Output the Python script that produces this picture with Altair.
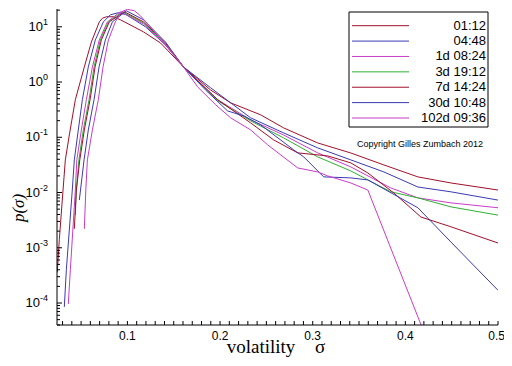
import altair as alt
import pandas as pd

names = ["01:12", "04:48", "1d 08:24", "3d 19:12", "7d 14:24", "30d 10:48", "102d 09:36"]
colors = ["#a0102a", "#3a3ab4", "#c83cc8", "#30b030", "#a0102a", "#3a3ab4", "#c83cc8"]

sig_1 = [0.0243, 0.0265, 0.0297, 0.0330, 0.0373, 0.0438, 0.0535, 0.0611, 0.0697, 0.0730, 0.0773, 0.0849, 0.0924,
         0.1173, 0.1357, 0.1605, 0.1897, 0.2114, 0.2438, 0.2686, 0.3054, 0.3411, 0.3768, 0.4135, 0.4492, 0.5]
p_1 = [3.6e-4, 1.4e-3, 7.3e-3, 0.039, 0.11, 0.48, 1.88, 5.3, 12.3, 14.3, 15.2, 15.2, 13.4,
       8.1, 5.1, 1.88, 0.72, 0.42, 0.255, 0.148, 0.079, 0.052, 0.0316, 0.0192, 0.0149, 0.0111]

sig_2 = [0.0319, 0.0341, 0.0373, 0.0405, 0.0427, 0.0470, 0.0514, 0.0578, 0.0654, 0.0741, 0.0816, 0.0903,
         0.0989, 0.1195, 0.1411, 0.1605, 0.1897, 0.2330, 0.2686, 0.3054, 0.3411, 0.3768, 0.4135, 0.4492, 0.5]
p_2 = [8.5e-5, 4.0e-4, 2.1e-3, 0.0111, 0.039, 0.136, 0.48, 1.88, 5.8, 12.3, 16.5, 18.0,
       16.5, 10.0, 4.7, 1.88, 0.79, 0.225, 0.120, 0.0643, 0.0390, 0.0236, 0.0126, 0.0103, 0.0073]

sig_3 = [0.0362, 0.0384, 0.0411, 0.0438, 0.0454, 0.0503, 0.0557, 0.0622, 0.0697, 0.0784, 0.0924, 0.1173,
         0.1411, 0.1605, 0.1973, 0.2330, 0.2686, 0.3054, 0.3411, 0.3843, 0.4135, 0.4492, 0.5]
p_3 = [9.6e-5, 4.0e-4, 2.1e-3, 0.0111, 0.039, 0.136, 0.48, 1.88, 5.8, 12.3, 18.7, 11.3,
       4.7, 1.88, 0.48, 0.207, 0.110, 0.0522, 0.0291, 0.0121, 0.0080, 0.0065, 0.0053]

sig_4 = [0.0438, 0.0449, 0.0476, 0.0524, 0.0586, 0.0640, 0.0708, 0.0795, 0.0946, 0.1173, 0.1411,
         0.1605, 0.1973, 0.2330, 0.2686, 0.3054, 0.3411, 0.3843, 0.4135, 0.4492, 0.5]
p_4 = [0.0039, 0.0111, 0.039, 0.136, 0.48, 1.88, 5.8, 12.3, 18.7, 11.8, 4.9,
       1.88, 0.46, 0.198, 0.0975, 0.0442, 0.0246, 0.0103, 0.0080, 0.0055, 0.0039]

sig_5 = [0.0427, 0.0449, 0.0486, 0.0535, 0.0597, 0.0651, 0.0719, 0.0805, 0.0968, 0.1173, 0.1411, 0.1605,
         0.1973, 0.2330, 0.2578, 0.2838, 0.3162, 0.3411, 0.3595, 0.3876, 0.4168, 0.4492, 0.5]
p_5 = [0.0022, 0.0111, 0.039, 0.136, 0.48, 1.88, 5.8, 12.3, 18.7, 12.3, 5.1, 1.88,
       0.48, 0.182, 0.0897, 0.0522, 0.0460, 0.0344, 0.0226, 0.0098, 0.0036, 0.0024, 0.00122]

sig_6 = [0.0481, 0.0532, 0.0578, 0.0640, 0.0694, 0.0762, 0.0838, 0.0989, 0.1173, 0.1411, 0.1605, 0.1843,
         0.2081, 0.2254, 0.2438, 0.2795, 0.2903, 0.3119, 0.3411, 0.3595, 0.4135, 0.4492, 0.5]
p_6 = [0.0073, 0.039, 0.136, 0.48, 1.88, 5.8, 12.3, 19.5, 13.4, 5.3, 1.88, 0.72,
       0.30, 0.244, 0.168, 0.0591, 0.0442, 0.0192, 0.0184, 0.0169, 0.0053, 0.00127, 1.7e-4]

sig_7 = [0.0535, 0.0551, 0.0568, 0.0622, 0.0686, 0.0737, 0.0795, 0.0870, 0.0935, 0.1000, 0.1076, 0.1141,
         0.1281, 0.1465, 0.1605, 0.1757, 0.1951, 0.2114, 0.2330, 0.2514, 0.2838, 0.3054, 0.3162, 0.3411,
         0.3595, 0.417]
p_7 = [0.0022, 0.0111, 0.039, 0.136, 0.48, 1.88, 5.8, 12.3, 18.7, 20.7, 19.5, 15.8,
       8.5, 3.8, 1.88, 0.82, 0.39, 0.225, 0.136, 0.0728, 0.0279, 0.0236, 0.0200, 0.0149,
       0.0111, 4.0e-5]

series = [(sig_1, p_1), (sig_2, p_2), (sig_3, p_3), (sig_4, p_4), (sig_5, p_5), (sig_6, p_6), (sig_7, p_7)]

x_label_vals = [0.1, 0.2, 0.3, 0.4, 0.5]
x_label_text = ["0.1", "0.2", "0.3", "0.4", "0.5"]
y_decades = [10.0, 1.0, 0.1, 0.01, 0.001, 0.0001]
y_exps = ["1", "0", "-1", "-2", "-3", "-4"]
copyright_text = "Copyright Gilles Zumbach 2012"
x_title_word = "volatility"
x_title_sym = "\u03c3"
y_title = "p(\u03c3)"

rows = []
for name, (sg, pp) in zip(names, series):
    for i, (a, b) in enumerate(zip(sg, pp)):
        rows.append({"series": name, "i": i, "sigma": a, "p": b})
df = pd.DataFrame(rows)

W, H = 441, 316
XDOM = [0.024, 0.5]
YDOM = [4e-5, 21.0]
xscale = alt.Scale(domain=XDOM, nice=False, zero=False)
yscale = alt.Scale(type="log", domain=YDOM, nice=False)
cscale = alt.Scale(domain=names, range=colors)

SANS = "Liberation Sans"
SERIF = "Liberation Serif"

one = pd.DataFrame({"k": [0]})

lines = alt.Chart(df).mark_line(strokeWidth=1, clip=True).encode(
    x=alt.X("sigma:Q", scale=xscale, axis=None),
    y=alt.Y("p:Q", scale=yscale, axis=None),
    color=alt.Color("series:N", scale=cscale, legend=None),
    order="i:Q",
    detail="series:N",
)

# axis lines
x_axis_line = alt.Chart(one).mark_rule(color="black", strokeWidth=1).encode(
    x=alt.value(0), x2=alt.value(W), y=alt.value(H))
y_axis_line = alt.Chart(one).mark_rule(color="black", strokeWidth=1).encode(
    x=alt.value(0), y=alt.value(0), y2=alt.value(H))

# inward ticks
xt_vals = [round(0.03 + 0.01 * k, 2) for k in range(48)]
xt = alt.Chart(pd.DataFrame({"v": xt_vals})).mark_rule(color="black", strokeWidth=1).encode(
    x=alt.X("v:Q", scale=xscale, axis=None), y=alt.value(H), y2=alt.value(H - 4))

xlabdf = pd.DataFrame({"v": x_label_vals, "t": x_label_text})
xlab = alt.Chart(xlabdf).transform_filter("datum.v < 0.45").mark_text(
    align="center", baseline="middle", font=SANS, fontSize=12, color="black").encode(
    x=alt.X("v:Q", scale=xscale, axis=None), y=alt.value(H + 11), text="t:N")
xlab_last = alt.Chart(xlabdf).transform_filter("datum.v > 0.45").mark_text(
    align="right", baseline="middle", font=SANS, fontSize=12, color="black", dx=7).encode(
    x=alt.X("v:Q", scale=xscale, axis=None), y=alt.value(H + 11), text="t:N")

yt_rows = []
for e in range(-5, 2):
    for m in range(1, 10):
        v = m * 10.0 ** e
        if YDOM[0] <= v <= YDOM[1]:
            yt_rows.append({"v": v, "major": m == 1})
ytdf = pd.DataFrame(yt_rows)
yt_min = alt.Chart(ytdf).transform_filter("!datum.major").mark_rule(color="black", strokeWidth=1).encode(
    y=alt.Y("v:Q", scale=yscale, axis=None), x=alt.value(0), x2=alt.value(3))
yt_maj = alt.Chart(ytdf).transform_filter("datum.major").mark_rule(color="black", strokeWidth=1).encode(
    y=alt.Y("v:Q", scale=yscale, axis=None), x=alt.value(0), x2=alt.value(5))

ylab = pd.DataFrame({"v": y_decades, "e": y_exps})
base_pos = alt.Chart(ylab).transform_filter("datum.v >= 1").mark_text(
    align="right", baseline="middle", font=SANS, fontSize=13, color="black").encode(
    y=alt.Y("v:Q", scale=yscale, axis=None), x=alt.value(-14), text=alt.value("10"))
base_neg = alt.Chart(ylab).transform_filter("datum.v < 1").mark_text(
    align="right", baseline="middle", font=SANS, fontSize=13, color="black").encode(
    y=alt.Y("v:Q", scale=yscale, axis=None), x=alt.value(-17), text=alt.value("10"))
exp_pos = alt.Chart(ylab).transform_filter("datum.v >= 1").mark_text(
    align="left", baseline="middle", font=SANS, fontSize=9, dy=-5, color="black").encode(
    y=alt.Y("v:Q", scale=yscale, axis=None), x=alt.value(-14), text="e:N")
exp_neg = alt.Chart(ylab).transform_filter("datum.v < 1").mark_text(
    align="left", baseline="middle", font=SANS, fontSize=9, dy=-5, color="black").encode(
    y=alt.Y("v:Q", scale=yscale, axis=None), x=alt.value(-17), text="e:N")

# legend
legdf = pd.DataFrame({"series": names, "k": list(range(len(names)))})
lscale = alt.Scale(domain=[0, len(names) - 1], range=[16.7, 109])
leg_box = alt.Chart(one).mark_rect(fill="white", stroke="black", strokeWidth=1).encode(
    x=alt.value(292), x2=alt.value(431), y=alt.value(3), y2=alt.value(118))
leg_lines = alt.Chart(legdf).mark_rule(strokeWidth=1).encode(
    y=alt.Y("k:Q", scale=lscale, axis=None), x=alt.value(295), x2=alt.value(352),
    color=alt.Color("series:N", scale=cscale, legend=None))
leg_text = alt.Chart(legdf).mark_text(align="right", baseline="middle", font=SANS, fontSize=13,
                                      color="black").encode(
    y=alt.Y("k:Q", scale=lscale, axis=None), x=alt.value(429), text="series:N")

copy = alt.Chart(one).mark_text(align="center", baseline="middle", font=SANS, fontSize=9,
                                color="black").encode(
    x=alt.value(363), y=alt.value(134.5), text=alt.value(copyright_text))

xtitle_w = alt.Chart(one).mark_text(align="center", baseline="alphabetic", font=SERIF, fontSize=19,
                                    color="black").encode(
    x=alt.value(204), y=alt.value(344), text=alt.value(x_title_word))
xtitle_s = alt.Chart(one).mark_text(align="center", baseline="alphabetic", font=SERIF, fontSize=19,
                                    color="black").encode(
    x=alt.value(263), y=alt.value(344), text=alt.value(x_title_sym))
ytitle = alt.Chart(one).mark_text(align="center", baseline="middle", font=SERIF, fontSize=17,
                                  fontStyle="italic", angle=270, color="black").encode(
    x=alt.value(-38), y=alt.value(199), text=alt.value(y_title))

chart = alt.layer(
    lines, x_axis_line, y_axis_line, xt, xlab, xlab_last, yt_min, yt_maj, base_pos, base_neg,
    exp_pos, exp_neg, leg_box, leg_lines, leg_text, copy, xtitle_w, xtitle_s, ytitle
).resolve_scale(y="independent").properties(
    width=W, height=H,
    padding={"left": 49, "top": 1, "right": 6, "bottom": 33},
    autosize=alt.AutoSizeParams(type="none"),
    background="white",
).configure_view(stroke=None)

chart.save("out.html", embed_options={"renderer": "svg", "actions": False})
